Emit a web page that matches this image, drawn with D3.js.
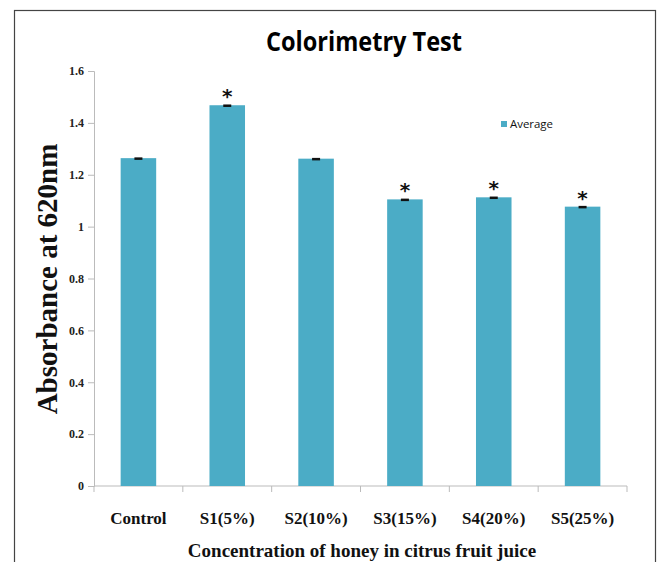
<!DOCTYPE html>
<html>
<head>
<meta charset="utf-8">
<script src="https://cdn.jsdelivr.net/npm/d3@7"></script>
<style>
  body { margin: 0; background: #fff; }
  svg { display: block; }
</style>
</head>
<body>
<div id="chart"></div>
<script>
// data
var categories = ['Control', 'S1(5%)', 'S2(10%)', 'S3(15%)', 'S4(20%)', 'S5(25%)']
var averages   = [1.264, 1.468, 1.262, 1.105, 1.113, 1.077]
var errors     = [0.003, 0.003, 0.003, 0.003, 0.003, 0.003]
var significant = [false, true, false, true, true, true]
var yTicks = [0, 0.2, 0.4, 0.6, 0.8, 1, 1.2, 1.4, 1.6]

var width = 660, height = 562
var margin = {top: 71, right: 33, bottom: 76, left: 94}
var innerW = width - margin.left - margin.right,
    innerH = height - margin.top - margin.bottom

var barColor = '#4bacc6'

var svg = d3.select('#chart').append('svg')
    .attr('width', width)
    .attr('height', height)

// outer frame
svg.append('rect')
    .attr('x', 14.5).attr('y', 10.5)
    .attr('width', 641).attr('height', 600)
    .attr('fill', 'none')
    .attr('stroke', '#444')
    .attr('stroke-width', 1.2)

// no narrow font installed, so squeeze the title to the reference width
svg.append('text')
    .attr('x', 266).attr('y', 51)
    .attr('textLength', 196)
    .attr('lengthAdjust', 'spacingAndGlyphs')
    .style('font-family', '"Open Sans", sans-serif')
    .style('font-weight', 'bold')
    .style('font-size', '26px')
    .text('Colorimetry Test')

var g = svg.append('g')
    .attr('transform', 'translate(' + margin.left + ',' + margin.top + ')')

var x = d3.scaleBand().domain(categories).range([0, innerW]).padding(0)
var y = d3.scaleLinear().domain([0, 1.6]).range([innerH, 0])

// y axis
var yAxis = d3.axisLeft(y).tickValues(yTicks).tickSize(6).tickPadding(4)
    .tickFormat(function(d) { return d === 0 || d === 1 ? d : d3.format('.1f')(d) })
var yg = g.append('g').call(yAxis)
yg.select('.domain').attr('stroke', '#bbb')
yg.selectAll('.tick line').attr('stroke', '#bbb')
yg.selectAll('.tick text')
    .style('font-family', '"Liberation Serif", serif')
    .style('font-weight', 'bold')
    .style('font-size', '12px')
    .attr('fill', '#222')

// x axis: baseline plus boundary ticks
g.append('line')
    .attr('x1', 0).attr('x2', innerW)
    .attr('y1', y(0)).attr('y2', y(0))
    .attr('stroke', '#bbb')
var bounds = categories.map(function(c) { return x(c) }).concat([innerW])
g.selectAll('.xtick').data(bounds).enter().append('line')
    .attr('class', 'xtick')
    .attr('x1', function(d) { return d }).attr('x2', function(d) { return d })
    .attr('y1', y(0)).attr('y2', y(0) + 6)
    .attr('stroke', '#bbb')

g.selectAll('.xlabel').data(categories).enter().append('text')
    .attr('class', 'xlabel')
    .attr('x', function(d) { return x(d) + x.bandwidth() / 2 })
    .attr('y', y(0) + 38)
    .attr('text-anchor', 'middle')
    .style('font-family', '"Liberation Serif", serif')
    .style('font-weight', 'bold')
    .style('font-size', '17px')
    .attr('fill', '#111')
    .text(function(d) { return d })

// bars
var barW = x.bandwidth() * 0.4
g.selectAll('.bar').data(averages).enter().append('rect')
    .attr('class', 'bar')
    .attr('x', function(d, i) { return x(categories[i]) + (x.bandwidth() - barW) / 2 })
    .attr('y', function(d) { return y(d) })
    .attr('width', barW)
    .attr('height', function(d) { return y(0) - y(d) })
    .attr('fill', barColor)

// error bars
averages.forEach(function(d, i) {
  var cx = x(categories[i]) + x.bandwidth() / 2
  g.append('rect')
      .attr('x', cx - 4).attr('y', y(d + errors[i]))
      .attr('width', 8).attr('height', Math.max(2.5, y(d - errors[i]) - y(d + errors[i])))
      .attr('fill', '#111')
  if (significant[i]) {
    g.append('text')
        .attr('x', cx).attr('y', y(d) - 2)
        .attr('text-anchor', 'middle')
        .style('font-family', '"DejaVu Sans", sans-serif')
        .style('font-weight', 'bold')
        .style('font-size', '20px')
        .attr('fill', '#111')
        .text('*')
  }
})

// legend
svg.append('rect')
    .attr('x', 501).attr('y', 121).attr('width', 6).attr('height', 6)
    .attr('fill', barColor)
svg.append('text')
    .attr('x', 510).attr('y', 128)
    .attr('textLength', 43)
    .attr('lengthAdjust', 'spacingAndGlyphs')
    .style('font-family', '"Open Sans", sans-serif')
    .style('font-size', '11px')
    .attr('fill', '#111')
    .text('Average')

// axis titles
svg.append('text')
    .attr('x', 362).attr('y', 557)
    .attr('text-anchor', 'middle')
    .style('font-family', '"Liberation Serif", serif')
    .style('font-weight', 'bold')
    .style('font-size', '19px')
    .attr('fill', '#111')
    .text('Concentration of honey in citrus fruit juice')

svg.append('text')
    .attr('transform', 'translate(57,' + 279 + ') rotate(-90)')
    .attr('text-anchor', 'middle')
    .style('font-family', '"Liberation Serif", serif')
    .style('font-weight', 'bold')
    .style('font-size', '29px')
    .attr('fill', '#111')
    .text('Absorbance at 620nm')
</script>
</body>
</html>
